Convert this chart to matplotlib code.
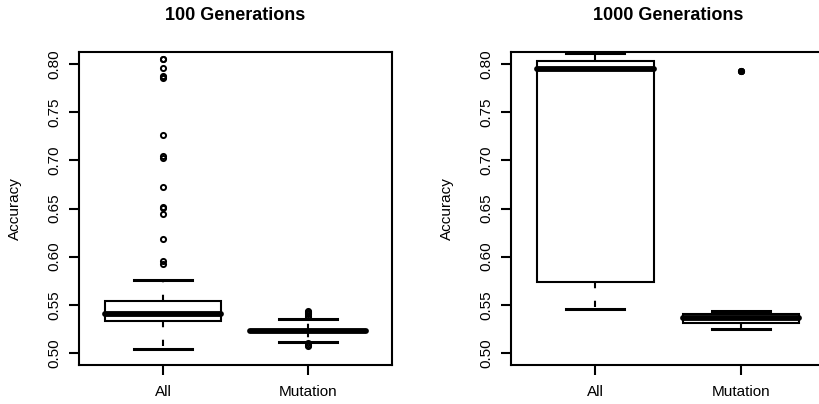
import numpy as np
import matplotlib.pyplot as plt

plt.rcParams['font.family'] = ['Liberation Sans', 'DejaVu Sans']

groups = ["All", "Mutation"]
yticks = [0.50, 0.55, 0.60, 0.65, 0.70, 0.75, 0.80]

# 100 generations: (q1, median, q3, whisker low, whisker high)
g100_all = [0.533, 0.540, 0.554, 0.504, 0.576]
g100_all_out = [0.8055, 0.8050, 0.7955, 0.7880, 0.7870, 0.7860, 0.7260, 0.7040,
                0.7020, 0.6726, 0.6516, 0.6505, 0.6443, 0.6183, 0.5958, 0.5924]
g100_mut = [0.5226, 0.5232, 0.5240, 0.5117, 0.5353]
g100_mut_out = [0.5440, 0.5430, 0.5415, 0.5400, 0.5385, 0.5375,
                0.5100, 0.5085, 0.5076]

# 1000 generations
g1000_all = [0.5734, 0.7945, 0.8030, 0.5460, 0.8110]
g1000_all_out = []
g1000_mut = [0.5308, 0.5360, 0.5405, 0.5246, 0.5439]
g1000_mut_out = [0.7927, 0.7925, 0.7929]


def make_stats(vals, outliers, label):
    q1, med, q3, lo, hi = vals
    return dict(q1=q1, med=med, q3=q3, whislo=lo, whishi=hi,
                fliers=np.array(outliers), label=label)


def draw(ax, stats, title):
    bp = ax.bxp(stats, positions=[1, 2], widths=0.8, patch_artist=True,
                boxprops=dict(facecolor='white', edgecolor='black', lw=1.5),
                medianprops=dict(color='black', lw=4.2, solid_capstyle='round'),
                whiskerprops=dict(color='black', lw=1.5, linestyle=(0, (3, 6))),
                capprops=dict(color='black', lw=2.2),
                flierprops=dict(marker='o', mfc='none', mec='black', ms=3.7, mew=1.4))
    ax.set_xlim(0.42, 2.58)
    ax.set_ylim(0.4875, 0.8125)
    ax.set_yticks(yticks)
    ax.set_yticklabels(["%.2f" % t for t in yticks], rotation=90, va='center')
    ax.set_xticks([1, 2])
    ax.set_xticklabels(groups)
    ax.tick_params(axis='both', length=7.5, width=1.5, labelsize=11)
    ax.tick_params(axis='y', pad=5)
    ax.tick_params(axis='x', pad=7)
    for s in ax.spines.values():
        s.set_linewidth(1.5)
    ax.set_ylabel("Accuracy", fontsize=11)
    ax.yaxis.set_label_coords(-0.183, 0.5)
    ax.set_title(title, fontsize=13, fontweight='bold', pad=23)
    return bp


fig = plt.figure(figsize=(8.2, 4.04), dpi=100)
ax1 = fig.add_axes([0.0963, 0.0965, 0.3817, 0.7748])
ax2 = fig.add_axes([0.6232, 0.0965, 0.383, 0.7748])

draw(ax1, [make_stats(g100_all, g100_all_out, "All"),
           make_stats(g100_mut, g100_mut_out, "Mutation")], "100 Generations")
bp2 = draw(ax2, [make_stats(g1000_all, g1000_all_out, "All"),
                 make_stats(g1000_mut, g1000_mut_out, "Mutation")], "1000 Generations")
# overlapping points in the reference read as a solid dot
bp2['fliers'][1].set_markerfacecolor('black')

plt.savefig("out.png", dpi=100)
